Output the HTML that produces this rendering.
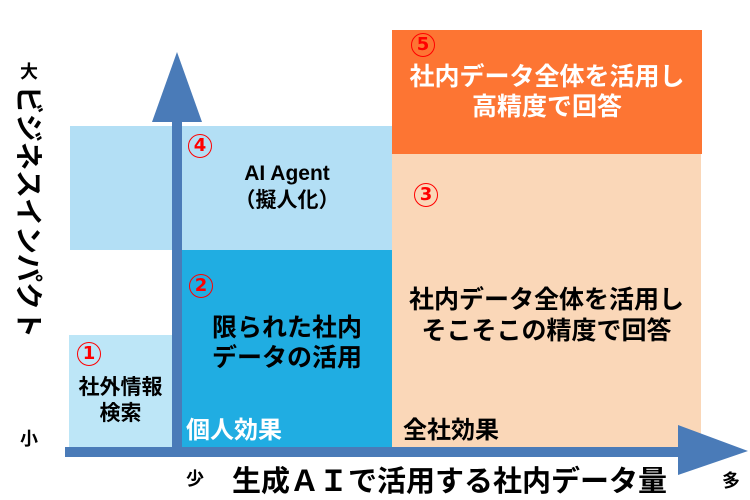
<!DOCTYPE html>
<html><head><meta charset="utf-8"><style>
body{margin:0;width:750px;height:499px;background:#fff;position:relative;overflow:hidden;font-family:"Liberation Sans","Noto Sans CJK JP",sans-serif;font-weight:bold}
div{position:absolute}
.t{text-align:center;white-space:nowrap}
.n{color:#f00;font-size:18px;width:22px;height:22px;line-height:22px;border:1.5px solid #f00;border-radius:50%;text-align:center;font-family:"DejaVu Sans",sans-serif}
</style></head><body>
<div style="left:69px;top:335px;width:103px;height:112px;background:#bde6f7"></div>
<div style="left:70px;top:126px;width:322px;height:124px;background:#b3dff5"></div>
<div style="left:182px;top:250px;width:210px;height:197px;background:#20ade2"></div>
<div style="left:392px;top:154px;width:309px;height:293px;background:#fad7b8"></div>
<div style="left:392px;top:30px;width:310px;height:124px;background:#fd7533"></div>
<div style="left:172px;top:120px;width:10px;height:330px;background:#4a7bb8"></div>
<svg style="position:absolute;left:0;top:0" width="750" height="499"><polygon points="152,122 177,52 202,122" fill="#4a7bb8"/><polygon points="678,425 748,451 678,475" fill="#4a7bb8"/></svg>
<div style="left:65px;top:447px;width:615px;height:10px;background:#4a7bb8"></div>

<div class="t" style="left:20px;top:58px;font-size:18px">大</div>
<div class="t" style="left:20px;top:425px;font-size:18px">小</div>
<div style="left:12px;top:86px;writing-mode:vertical-rl;text-orientation:sideways;font-size:28px;line-height:32px;letter-spacing:0px">ビジネスインパクト</div>
<div class="t" style="left:186px;top:465px;font-size:18px">少</div>
<div class="t" style="left:722px;top:467px;font-size:18px">多</div>
<div class="t" style="left:232px;top:458px;font-size:29px">生成ＡＩで活用する社内データ量</div>

<div class="n" style="left:77px;top:342px">1</div>
<div class="t" style="left:69px;top:375px;width:103px;font-size:21px;line-height:26px">社外情報<br>検索</div>
<div class="n" style="left:189px;top:274px">2</div>
<div class="t" style="left:182px;top:313px;width:210px;font-size:25px;line-height:30px">限られた社内<br>データの活用</div>
<div class="t" style="left:186px;top:410px;font-size:24px;color:#fff">個人効果</div>
<div class="n" style="left:188px;top:134px">4</div>
<div class="t" style="left:182px;top:160px;width:210px;font-size:21px;line-height:27px">AI Agent<br>（擬人化）</div>
<div class="n" style="left:414px;top:183px">3</div>
<div class="t" style="left:392px;top:285px;width:309px;font-size:25px;line-height:31px">社内データ全体を活用し<br>そこそこの精度で回答</div>
<div class="t" style="left:403px;top:410px;font-size:24px">全社効果</div>
<div class="n" style="left:411px;top:33px">5</div>
<div class="t" style="left:392px;top:62px;width:310px;font-size:25px;line-height:30px;color:#fff">社内データ全体を活用し<br>高精度で回答</div>
</body></html>
